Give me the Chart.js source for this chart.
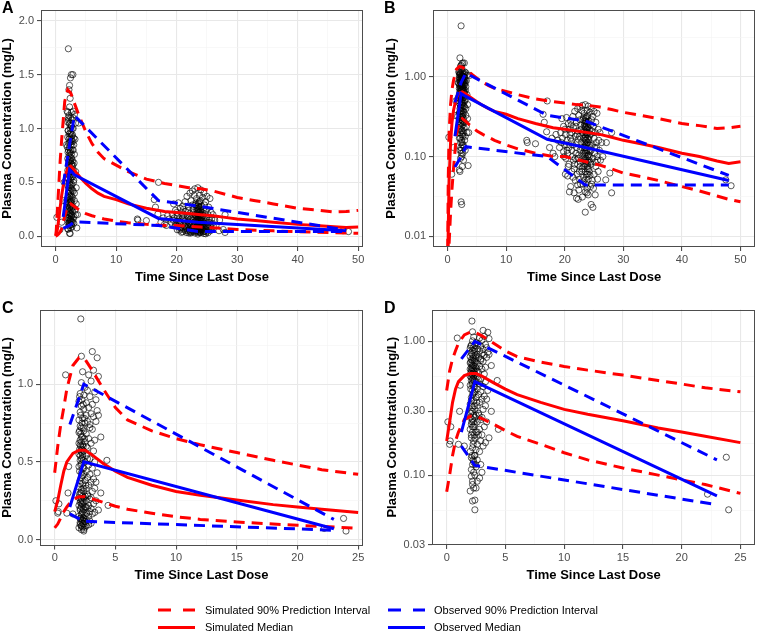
<!DOCTYPE html>
<html>
<head>
<meta charset="utf-8">
<script src="https://cdn.jsdelivr.net/npm/chart.js@4.4.0/dist/chart.umd.min.js"></script>
<style>
  body { margin: 0; background: #fff; width: 760px; height: 633px; position: relative; overflow: hidden;
         font-family: "Liberation Sans", Arial, sans-serif; }
  canvas { position: absolute; }
  .tag { position: absolute; font-weight: bold; font-size: 16px; line-height: 16px; color: #000; }
  .leg { position: absolute; font-size: 11px; line-height: 14px; color: #000; white-space: nowrap; }
  svg { position: absolute; }
</style>
</head>
<body>
<canvas id="cA" width="375" height="290" style="left:0;top:0"></canvas>
<canvas id="cB" width="380" height="290" style="left:380px;top:0"></canvas>
<canvas id="cC" width="375" height="290" style="left:0;top:300px"></canvas>
<canvas id="cD" width="380" height="290" style="left:380px;top:300px"></canvas>
<div class="tag" style="left:2px;top:0">A</div>
<div class="tag" style="left:384px;top:0">B</div>
<div class="tag" style="left:2px;top:300px">C</div>
<div class="tag" style="left:384px;top:300px">D</div>

<svg width="760" height="48" style="left:0;top:585px">
  <line x1="158" y1="25" x2="195" y2="25" stroke="#ff0000" stroke-width="3" stroke-dasharray="13 12"/>
  <line x1="158" y1="42.5" x2="195" y2="42.5" stroke="#ff0000" stroke-width="3"/>
  <line x1="388" y1="25" x2="425" y2="25" stroke="#0000ff" stroke-width="3" stroke-dasharray="13 12"/>
  <line x1="388" y1="42.5" x2="425" y2="42.5" stroke="#0000ff" stroke-width="3"/>
</svg>
<div class="leg" style="left:205px;top:603px">Simulated 90% Prediction Interval</div>
<div class="leg" style="left:205px;top:620px">Simulated Median</div>
<div class="leg" style="left:434px;top:603px">Observed 90% Prediction Interval</div>
<div class="leg" style="left:434px;top:620px">Observed Median</div>

<script>
// ---- data: panels A/B (same data, linear / log), panels C/D (same data, linear / log)
const simTimeAB  = [0, 0.1, 0.25, 0.5, 0.75, 1, 1.5, 2, 2.5, 3, 4, 5, 6, 7, 8, 10, 12, 15, 18, 20, 22, 24, 26, 28, 30, 33, 36, 40, 43, 46, 48, 50];
const simUpperAB = [0.004, 0.05, 0.2, 0.45, 0.7, 0.9, 1.25, 1.36, 1.33, 1.25, 1.1, 0.97, 0.86, 0.78, 0.72, 0.66, 0.6, 0.53, 0.49, 0.47, 0.45, 0.44, 0.42, 0.39, 0.36, 0.33, 0.3, 0.26, 0.245, 0.225, 0.23, 0.24];
const simMedAB   = [0.002, 0.012, 0.05, 0.15, 0.27, 0.38, 0.55, 0.63, 0.65, 0.62, 0.55, 0.49, 0.44, 0.4, 0.37, 0.34, 0.3, 0.26, 0.23, 0.22, 0.21, 0.2, 0.19, 0.175, 0.16, 0.145, 0.13, 0.11, 0.1, 0.088, 0.082, 0.086];
const simLowerAB = [0.001, 0.003, 0.008, 0.02, 0.04, 0.07, 0.19, 0.28, 0.3, 0.28, 0.24, 0.21, 0.19, 0.175, 0.16, 0.14, 0.125, 0.11, 0.1, 0.1, 0.092, 0.085, 0.078, 0.07, 0.062, 0.056, 0.05, 0.042, 0.037, 0.032, 0.029, 0.027];

const obsTimeAB  = [1.25, 2.3, 3.1, 17, 23.5, 48];
const obsMedAB   = [0.18, 0.62, 0.57, 0.165, 0.13, 0.05];
const obsUpperAB = [0.48, 0.85, 1.12, 0.33, 0.28, 0.058];
const obsLowerAB = [0.074, 0.1, 0.133, 0.1, 0.044, 0.044];

const pointsAB = [
  [0.2,0.175],[0.7,0.06],[1.0,0.13],[1.2,0.33],[1.4,0.5],
  [2.1,1.74],[2.6,1.5],[2.85,1.5],[2.45,1.47],[2.3,1.4],[2.2,1.36],[2.4,1.28],[2.3,4.4],
  [1.9,1.16],[2.0,1.15],[2.9,1.16],[3.1,1.13],[2.2,1.12],[2.5,1.1],[2.7,1.08],[2.0,1.06],[2.3,1.04],[2.6,1.02],[2.9,1.0],[3.3,1.05],[3.8,1.05],
  [2.1,0.98],[2.4,0.96],[2.8,0.94],[2.0,0.92],[2.2,0.9],[2.6,0.9],[3.0,0.91],[2.3,0.87],[2.5,0.85],[2.7,0.84],[1.9,0.83],[2.1,0.8],[2.9,0.8],
  [2.4,0.78],[2.6,0.76],[2.2,0.74],[3.1,0.76],[2.0,0.72],[2.5,0.7],[2.8,0.7],[2.3,0.68],[2.1,0.66],[2.7,0.65],[2.4,0.63],[2.9,0.62],[2.0,0.61],
  [2.2,0.59],[2.6,0.58],[2.35,0.56],[2.8,0.55],[2.1,0.53],[2.5,0.52],[3.0,0.52],[2.3,0.5],[2.7,0.48],[2.0,0.47],[2.4,0.45],[2.6,0.44],[2.2,0.42],
  [2.9,0.42],[2.1,0.4],[2.5,0.38],[2.3,0.37],[2.8,0.36],[2.0,0.35],[2.6,0.34],[2.4,0.32],[3.1,0.33],[2.2,0.31],[2.7,0.3],[2.1,0.29],[2.5,0.28],
  [2.9,0.27],[2.3,0.26],[2.0,0.25],[2.6,0.25],[2.4,0.24],[2.8,0.23],[2.2,0.22],[3.2,0.24],[2.5,0.21],[2.1,0.2],[2.7,0.2],[2.3,0.19],[3.3,0.2],
  [2.6,0.18],[2.0,0.17],[2.4,0.16],[2.9,0.16],[2.2,0.15],[2.5,0.14],[2.8,0.13],[2.3,0.12],[2.1,0.12],[2.6,0.11],[3.0,0.12],[2.4,0.1],[2.2,0.095],
  [2.7,0.09],[2.5,0.075],[3.5,0.077],[2.0,0.068],[2.1,0.065],[2.3,0.027],[2.4,0.025],[1.8,0.55],[1.7,0.32],[1.8,0.85],
  [2.45,1.0],[2.55,0.95],[2.35,0.92],[2.65,0.88],[2.25,0.82],[2.45,0.8],[2.55,0.73],[2.35,0.71],[2.65,0.67],[2.25,0.64],[2.45,0.6],[2.55,0.62],
  [2.15,0.57],[2.75,0.6],[2.45,0.54],[3.2,0.9],[3.3,0.6],[3.4,0.45],[3.6,0.2],[3.4,0.3],[3.0,0.18],
  [2.15,1.08],[2.35,1.05],[2.55,1.03],[2.75,1.0],[2.05,0.98],[2.25,0.95],[2.65,0.93],[2.85,0.88],[2.15,0.86],[2.45,0.88],[2.75,0.8],[2.05,0.78],
  [2.35,0.77],[2.65,0.72],[2.15,0.7],[2.45,0.69],[2.85,0.66],[2.25,0.6],[2.65,0.55],[2.05,0.54],[2.35,0.48],[2.55,0.47],[2.15,0.45],[2.75,0.43],
  [2.45,0.41],[2.25,0.38],[2.65,0.37],[2.05,0.36],[2.35,0.34],[2.55,0.32],[2.15,0.31],[2.45,0.29],[2.75,0.27],[2.25,0.27],[2.05,0.23],[2.35,0.21],
  [2.55,0.19],[2.15,0.17],[2.45,0.15],[2.65,0.14],[2.25,0.13],[2.35,0.11],[2.85,1.1],[3.0,0.85],[3.05,0.68],[2.95,0.5],[3.1,0.4],[2.3,1.2],[2.6,1.15],[2.1,1.1],
  [13.5,0.16],[13.6,0.15],[15.0,0.145],[16.3,0.34],[16.5,0.27],[17.0,0.5],[16.9,0.205],[17.4,0.13],[18.0,0.11],[18.3,0.1],[17.8,0.17],[18.5,0.19],
  [19.5,0.3],[20.3,0.31],[21.0,0.28],[21.7,0.37],[22.2,0.4],[22.6,0.42],[23.0,0.44],[23.5,0.45],[24.0,0.43],[24.5,0.4],[25.0,0.37],[25.5,0.35],
  [22.9,0.38],[23.8,0.38],[24.3,0.36],[23.3,0.35],[22.4,0.33],[21.4,0.32],[24.8,0.32],[23.9,0.33],[23.6,0.31],[20.6,0.26],[22.0,0.27],[23.1,0.29],
  [24.1,0.28],[25.3,0.27],[19.8,0.24],[20.8,0.22],[21.5,0.23],[22.7,0.25],[23.4,0.26],[24.4,0.25],[25.7,0.22],[19.3,0.2],[20.1,0.19],[21.2,0.2],
  [22.2,0.21],[23.7,0.22],[24.6,0.21],[26.0,0.2],[18.8,0.16],[19.6,0.17],[20.4,0.16],[21.0,0.17],[21.8,0.18],[22.5,0.18],[23.2,0.19],[23.9,0.19],
  [24.2,0.18],[25.0,0.17],[25.8,0.16],[19.1,0.13],[20.0,0.14],[20.7,0.13],[21.4,0.14],[22.1,0.15],[22.8,0.15],[23.5,0.16],[24.0,0.15],[24.7,0.14],
  [25.4,0.13],[26.3,0.15],[19.8,0.115],[20.5,0.11],[21.2,0.12],[21.9,0.11],[22.6,0.12],[23.3,0.13],[23.8,0.12],[24.3,0.115],[25.1,0.11],[20.2,0.095],
  [21.5,0.09],[22.3,0.095],[23.0,0.1],[23.6,0.095],[24.1,0.09],[24.8,0.095],[25.6,0.09],[20.6,0.075],[21.7,0.08],[22.6,0.075],[23.4,0.08],[23.9,0.075],
  [24.5,0.08],[25.3,0.075],[20.1,0.06],[21.2,0.065],[22.1,0.06],[22.9,0.065],[23.7,0.06],[24.2,0.065],[25.0,0.06],[20.5,0.057],[21.8,0.05],[22.5,0.052],
  [23.3,0.05],[24.0,0.052],[24.7,0.05],[25.6,0.052],[21.0,0.042],[22.2,0.044],[23.1,0.045],[23.8,0.04],[24.4,0.042],[20.8,0.036],[21.6,0.035],[22.4,0.038],
  [23.5,0.036],[24.9,0.04],[22.0,0.03],[22.3,0.029],[23.0,0.031],[24.0,0.033],[23.5,0.02],[24.5,0.025],[24.8,0.023],[25.2,0.033],
  [23.6,0.28],[23.7,0.25],[23.8,0.2],[23.55,0.18],[23.65,0.14],[23.75,0.11],[23.6,0.085],[23.85,0.07],[23.7,0.055],[23.4,0.21],[24.0,0.24],[23.9,0.17],
  [23.5,0.14],[24.1,0.12],[23.45,0.1],[24.05,0.105],[23.65,0.16],[23.55,0.23],[23.95,0.27],[23.75,0.32],
  [22.8,0.22],[23.0,0.2],[23.2,0.17],[23.4,0.15],[22.9,0.13],[23.1,0.11],[23.3,0.09],[22.7,0.085],[23.0,0.07],[23.2,0.055],[24.2,0.22],[24.4,0.19],
  [24.1,0.165],[24.3,0.14],[24.5,0.12],[24.2,0.1],[24.4,0.085],[24.1,0.07],[24.3,0.058],[24.6,0.045],[21.9,0.24],[22.1,0.19],[22.3,0.165],[22.0,0.13],
  [22.4,0.105],[21.8,0.095],[22.2,0.08],[21.6,0.07],[22.5,0.065],[21.3,0.1],[21.1,0.155],[20.9,0.19],[20.3,0.14],[20.4,0.12],[19.9,0.1],[19.4,0.15],
  [20.7,0.08],[21.4,0.055],[22.7,0.045],[25.2,0.2],[25.4,0.15],[25.1,0.13],[25.5,0.1],[25.2,0.085],[25.7,0.065],[25.9,0.12],[26.1,0.09],[22.6,0.29],
  [23.2,0.31],[24.6,0.29],[24.9,0.24],[21.1,0.25],[20.0,0.22],
  [23.6,0.3],[23.7,0.27],[23.5,0.24],[23.8,0.22],[23.6,0.2],[23.7,0.19],[23.5,0.17],[23.8,0.15],[23.6,0.13],[23.7,0.12],[23.5,0.11],[23.9,0.1],
  [23.6,0.09],[23.8,0.08],[23.5,0.065],[23.9,0.06],[23.6,0.045],[23.8,0.035],[23.4,0.28],[24.0,0.2],[23.4,0.12],[24.0,0.14],[23.3,0.24],[23.9,0.23],
  [23.3,0.075],[24.0,0.085],
  [27.1,0.15],[27.7,0.062],[27.0,0.051],[28.0,0.035],[28.0,0.2],[26.5,0.1],[47.5,0.051],[48.4,0.043]
];

const simTimeCD  = [0, 0.25, 0.5, 0.75, 1, 1.5, 2, 2.5, 3, 4, 5, 6, 8, 10, 12, 15, 18, 20, 22, 25];
const simUpperCD = [0.43, 0.6, 0.74, 0.85, 0.97, 1.12, 1.17, 1.16, 1.1, 0.97, 0.85, 0.77, 0.7, 0.65, 0.61, 0.56, 0.51, 0.48, 0.45, 0.42];
const simMedCD   = [0.18, 0.25, 0.35, 0.44, 0.5, 0.555, 0.575, 0.575, 0.55, 0.49, 0.44, 0.4, 0.35, 0.31, 0.285, 0.255, 0.225, 0.21, 0.195, 0.175];
const simLowerCD = [0.075, 0.1, 0.14, 0.18, 0.21, 0.26, 0.275, 0.275, 0.265, 0.24, 0.215, 0.195, 0.17, 0.147, 0.13, 0.113, 0.1, 0.092, 0.085, 0.073];

const obsTimeCD  = [1.25, 2.4, 23];
const obsMedCD   = [0.21, 0.5, 0.07];
const obsUpperCD = [0.74, 1.0, 0.13];
const obsLowerCD = [0.165, 0.118, 0.06];

const pointsCD = [
  [0.1,0.25],[0.35,0.23],[0.3,0.18],[0.25,0.17],[0.9,1.06],[1.1,0.3],[1.15,0.47],[1.0,0.17],[1.5,0.165],
  [2.15,1.42],[2.2,1.18],[3.1,1.21],[3.5,1.17],[2.3,1.08],[3.2,1.09],[2.2,1.01],[2.8,1.06],[3.6,1.05],[3.0,1.02],[2.5,0.98],[2.7,0.96],[3.3,0.95],
  [2.1,0.94],[2.4,0.93],[2.9,0.92],[3.4,0.9],[2.0,0.89],[2.6,0.88],[3.1,0.87],[2.2,0.86],[2.8,0.85],[2.4,0.84],[3.5,0.83],[2.1,0.82],[3.0,0.81],
  [2.6,0.8],[3.2,0.79],[2.3,0.78],[2.0,0.77],[2.7,0.76],[3.4,0.76],[2.5,0.75],[2.9,0.74],[2.1,0.73],[3.6,0.8],[2.2,0.72],[2.4,0.7],[3.1,0.71],
  [2.0,0.69],[2.6,0.68],[3.8,0.66],[2.2,0.66],[2.8,0.65],[2.1,0.64],[2.5,0.63],[2.0,0.62],[2.3,0.61],[3.0,0.62],[2.15,0.6],[2.7,0.59],[2.05,0.58],
  [2.4,0.57],[3.2,0.57],[2.2,0.56],[2.0,0.55],[2.6,0.54],[2.3,0.53],[2.9,0.52],[2.1,0.51],[4.3,0.51],[2.5,0.5],[3.3,0.5],[2.2,0.49],[2.8,0.48],
  [2.0,0.47],[2.4,0.46],[3.1,0.46],[2.6,0.44],[2.2,0.43],[3.5,0.43],[2.9,0.42],[2.3,0.41],[2.7,0.4],[3.2,0.39],[2.1,0.38],[2.5,0.38],[3.0,0.37],
  [3.4,0.37],[2.3,0.36],[2.8,0.35],[2.0,0.34],[2.6,0.33],[3.3,0.33],[2.2,0.32],[2.4,0.31],[3.1,0.31],[3.8,0.3],[2.1,0.3],[2.7,0.29],[2.3,0.28],
  [2.5,0.28],[3.0,0.27],[2.0,0.27],[2.9,0.26],[2.2,0.26],[2.6,0.25],[3.4,0.25],[2.1,0.24],[2.4,0.24],[3.2,0.23],[2.3,0.23],[2.8,0.22],[4.4,0.22],
  [2.0,0.22],[2.5,0.21],[3.6,0.19],[2.2,0.21],[2.7,0.2],[3.0,0.2],[2.4,0.19],[2.1,0.19],[2.9,0.18],[3.3,0.175],[2.3,0.18],[2.6,0.17],[3.1,0.165],
  [2.2,0.16],[2.0,0.15],[2.5,0.155],[2.8,0.15],[2.4,0.14],[2.1,0.135],[2.6,0.13],[2.3,0.125],[2.2,0.12],[2.9,0.12],[2.5,0.115],[2.1,0.11],
  [3.0,0.105],[2.4,0.1],[2.1,0.098],[2.8,0.095],[2.0,0.076],[2.6,0.09],[2.2,0.085],[2.3,0.08],[2.2,0.064],[2.4,0.065],[2.4,0.055],
  [2.05,0.92],[2.25,0.9],[2.35,0.87],[2.15,0.8],[2.45,0.78],[2.25,0.75],[2.35,0.72],[2.05,0.7],[2.15,0.68],[2.3,0.66],[2.45,0.65],[2.2,0.63],
  [2.1,0.61],[2.35,0.6],[2.25,0.58],[2.15,0.57],[2.3,0.55],[2.1,0.54],[2.2,0.52],[2.35,0.51],[2.15,0.48],[2.3,0.46],[2.05,0.44],[2.4,0.42],
  [2.2,0.4],[2.1,0.36],[2.35,0.33],[2.2,0.3],[2.05,0.29],[2.4,0.27],[2.15,0.25],[2.3,0.25],[2.2,0.23],[2.1,0.2],[2.35,0.2],[2.25,0.17],
  [2.15,0.14],[2.35,0.14],[2.25,0.13],[2.45,0.12],[2.3,0.105],[2.2,0.09],[2.5,0.08],[2.6,0.6],[2.7,0.52],[2.55,0.35],[2.75,0.28],[2.6,0.21],
  [2.9,0.72],[3.3,0.64],
  [22.2,0.072],[23.8,0.136],[24.0,0.055]
];

// ---- axis ticks
const xMajorAB = [0, 10, 20, 30, 40, 50], xMinorAB = [5, 15, 25, 35, 45];
const xMajorCD = [0, 5, 10, 15, 20, 25], xMinorCD = [2.5, 7.5, 12.5, 17.5, 22.5];
const yMajorA = [0, 0.5, 1, 1.5, 2], yMinorA = [0.25, 0.75, 1.25, 1.75], yLabelsA = ['0.0', '0.5', '1.0', '1.5', '2.0'];
const yMajorB = [0.01, 0.1, 1], yMinorB = [0.0316, 0.316, 3.16], yLabelsB = ['0.01', '0.10', '1.00'];
const yMajorC = [0, 0.5, 1], yMinorC = [0.25, 0.75, 1.25], yLabelsC = ['0.0', '0.5', '1.0'];
const yMajorD = [0.03, 0.1, 0.3, 1], yMinorD = [0.0548, 0.173, 0.548], yLabelsD = ['0.03', '0.10', '0.30', '1.00'];

const FONT = '"Liberation Sans", Arial, sans-serif';
const RED = '#ff0000', BLUE = '#0000ff';

const frame = {
  id: 'frame',
  afterDatasetsDraw(chart) {
    const a = chart.chartArea, ctx = chart.ctx;
    ctx.save();
    ctx.strokeStyle = '#4d4d4d';
    ctx.lineWidth = 1;
    ctx.strokeRect(Math.round(a.left) + 0.5, Math.round(a.top) + 0.5, Math.round(a.width) - 1, Math.round(a.height) - 1);
    ctx.restore();
  }
};

function lineSet(t, v, color, dashed, order) {
  return {
    data: t.map((x, i) => ({ x: x, y: v[i] })),
    showLine: true, borderColor: color, borderWidth: 3,
    borderDash: dashed ? [11, 7] : [], borderCapStyle: 'butt',
    pointRadius: 0, tension: 0, fill: false, order: order
  };
}

function axis(type, min, max, major, minor, labels, title, titlePad, size, horizontal) {
  const isMajor = v => major.some(m => Math.abs(m - v) < 1e-9);
  return {
    type: type, min: min, max: max,
    afterBuildTicks: s => { s.ticks = major.concat(minor).sort((a, b) => a - b).map(v => ({ value: v })); },
    afterFit: s => { if (horizontal) s.height = size; else s.width = size; },
    ticks: {
      autoSkip: false, maxRotation: 0, color: '#4d4d4d', padding: horizontal ? 2 : 3,
      font: { family: FONT, size: 11 },
      callback: v => { const i = major.findIndex(m => Math.abs(m - v) < 1e-9); return i < 0 ? '' : labels[i]; }
    },
    grid: {
      color: c => isMajor(c.tick.value) ? '#e8e8e8' : '#f3f3f3',
      lineWidth: c => isMajor(c.tick.value) ? 1.1 : 0.6,
      tickColor: c => isMajor(c.tick.value) ? '#4d4d4d' : 'rgba(0,0,0,0)',
      tickLength: 4, drawTicks: true
    },
    border: { display: false },
    title: { display: true, text: title, color: '#000', padding: titlePad,
             font: { family: FONT, size: 13, weight: 'bold' } }
  };
}

function panel(id, o) {
  new Chart(document.getElementById(id), {
    type: 'scatter',
    data: {
      datasets: [
        lineSet(o.obsT, o.obsUp, BLUE, true, 0),
        lineSet(o.obsT, o.obsLo, BLUE, true, 0),
        lineSet(o.obsT, o.obsMed, BLUE, false, 0),
        lineSet(o.simT, o.simUp, RED, true, 1),
        lineSet(o.simT, o.simLo, RED, true, 1),
        lineSet(o.simT, o.simMed, RED, false, 1),
        {
          data: o.pts.map(p => ({ x: p[0], y: p[1] })),
          pointStyle: 'circle', pointRadius: 3.1, borderWidth: 0.9,
          borderColor: 'rgba(0,0,0,0.72)', backgroundColor: 'rgba(0,0,0,0)', order: 2
        }
      ]
    },
    options: {
      responsive: false, animation: false, events: [],
      layout: { padding: o.pad },
      plugins: { legend: { display: false }, tooltip: { enabled: false } },
      scales: {
        x: axis('linear', o.xMin, o.xMax, o.xMajor, o.xMinor, o.xMajor.map(String),
                'Time Since Last Dose', { top: 0, bottom: o.xTitlePad }, o.xSize, true),
        y: axis(o.yType, o.yMin, o.yMax, o.yMajor, o.yMinor, o.yLabels,
                'Plasma Concentration (mg/L)', { top: o.yTitlePad, bottom: 0 }, o.ySize, false)
      }
    },
    plugins: [frame]
  });
}

const ab = { simT: simTimeAB, simUp: simUpperAB, simMed: simMedAB, simLo: simLowerAB,
             obsT: obsTimeAB, obsUp: obsUpperAB, obsMed: obsMedAB, obsLo: obsLowerAB, pts: pointsAB,
             xMajor: xMajorAB, xMinor: xMinorAB };
const cd = { simT: simTimeCD, simUp: simUpperCD, simMed: simMedCD, simLo: simLowerCD,
             obsT: obsTimeCD, obsUp: obsUpperCD, obsMed: obsMedCD, obsLo: obsLowerCD, pts: pointsCD,
             xMajor: xMajorCD, xMinor: xMinorCD };

panel('cA', Object.assign({}, ab, {
  xMin: -2.42, xMax: 50.8, yType: 'linear', yMin: -0.1, yMax: 2.1,
  yMajor: yMajorA, yMinor: yMinorA, yLabels: yLabelsA,
  pad: { top: 10, right: 12, left: 0, bottom: 0 }, ySize: 41, xSize: 43, xTitlePad: 5, yTitlePad: 0
}));
panel('cB', Object.assign({}, ab, {
  xMin: -2.5, xMax: 52.5, yType: 'logarithmic', yMin: 0.0073, yMax: 6.96,
  yMajor: yMajorB, yMinor: yMinorB, yLabels: yLabelsB,
  pad: { top: 10, right: 1, left: 0, bottom: 0 }, ySize: 53, xSize: 43, xTitlePad: 5, yTitlePad: 4
}));
panel('cC', Object.assign({}, cd, {
  xMin: -1.21, xMax: 25.4, yType: 'linear', yMin: -0.038, yMax: 1.48,
  yMajor: yMajorC, yMinor: yMinorC, yLabels: yLabelsC,
  pad: { top: 8, right: 12, left: 0, bottom: 0 }, ySize: 40, xSize: 44.5, xTitlePad: 7, yTitlePad: 0
}));
panel('cD', Object.assign({}, cd, {
  xMin: -1.25, xMax: 26.25, yType: 'logarithmic', yMin: 0.03, yMax: 1.73,
  yMajor: yMajorD, yMinor: yMinorD, yLabels: yLabelsD,
  pad: { top: 8, right: 1, left: 0, bottom: 0 }, ySize: 52, xSize: 45, xTitlePad: 7, yTitlePad: 4.5
}));
</script>
</body>
</html>
